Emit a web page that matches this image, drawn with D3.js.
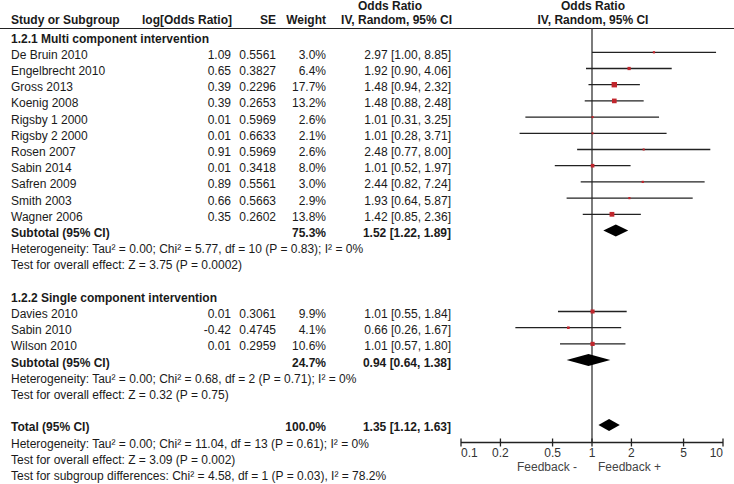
<!DOCTYPE html>
<html>
<head>
<meta charset="utf-8">
<script src="https://cdn.jsdelivr.net/npm/d3@7"></script>
<style>
  body { margin: 0; background: #fff; }
  text { font-family: "Liberation Sans", Arial, Helvetica, sans-serif; font-size: 12px; fill: #1a1a1a; }
</style>
</head>
<body>
<svg width="734" height="484"></svg>
<script>
// study rows (group 1 = multi component, group 2 = single component)
var studies = ["De Bruin 2010", "Engelbrecht 2010", "Gross 2013", "Koenig 2008", "Rigsby 1 2000", "Rigsby 2 2000",
  "Rosen 2007", "Sabin 2014", "Safren 2009", "Smith 2003", "Wagner 2006",
  "Davies 2010", "Sabin 2010", "Wilson 2010"];
var groups = [1, 1, 1, 1, 1, 1, 1, 1, 1, 1, 1, 2, 2, 2];
var logOR = [1.09, 0.65, 0.39, 0.39, 0.01, 0.01, 0.91, 0.01, 0.89, 0.66, 0.35, 0.01, -0.42, 0.01];
var se = [0.5561, 0.3827, 0.2296, 0.2653, 0.5969, 0.6633, 0.5969, 0.3418, 0.5561, 0.5663, 0.2602, 0.3061, 0.4745, 0.2959];
var weights = [3.0, 6.4, 17.7, 13.2, 2.6, 2.1, 2.6, 8.0, 3.0, 2.9, 13.8, 9.9, 4.1, 10.6];
var oddsRatio = [2.97, 1.92, 1.48, 1.48, 1.01, 1.01, 2.48, 1.01, 2.44, 1.93, 1.42, 1.01, 0.66, 1.01];
var ciLow = [1.00, 0.90, 0.94, 0.88, 0.31, 0.28, 0.77, 0.52, 0.82, 0.64, 0.85, 0.55, 0.26, 0.57];
var ciHigh = [8.85, 4.06, 2.32, 2.48, 3.25, 3.71, 8.00, 1.97, 7.24, 5.87, 2.36, 1.84, 1.67, 1.80];

// pooled estimates: subtotal 1, subtotal 2, total
var pooledLabels = ["Subtotal (95% CI)", "Subtotal (95% CI)", "Total (95% CI)"];
var pooledWeights = ["75.3%", "24.7%", "100.0%"];
var pooledOR = [1.52, 0.94, 1.35];
var pooledLow = [1.22, 0.64, 1.12];
var pooledHigh = [1.89, 1.38, 1.63];

var groupTitles = ["1.2.1 Multi component intervention", "1.2.2 Single component intervention"];
var groupNotes = [
  ["Heterogeneity: Tau\u00b2 = 0.00; Chi\u00b2 = 5.77, df = 10 (P = 0.83); I\u00b2 = 0%", "Test for overall effect: Z = 3.75 (P = 0.0002)"],
  ["Heterogeneity: Tau\u00b2 = 0.00; Chi\u00b2 = 0.68, df = 2 (P = 0.71); I\u00b2 = 0%", "Test for overall effect: Z = 0.32 (P = 0.75)"]
];
var totalNotes = ["Heterogeneity: Tau\u00b2 = 0.00; Chi\u00b2 = 11.04, df = 13 (P = 0.61); I\u00b2 = 0%",
  "Test for overall effect: Z = 3.09 (P = 0.002)",
  "Test for subgroup differences: Chi\u00b2 = 4.58, df = 1 (P = 0.03), I\u00b2 = 78.2%"];

var axisTicks = [0.1, 0.2, 0.5, 1, 2, 5, 10];
var axisLabels = ["Feedback -", "Feedback +"];

var svg = d3.select("svg");
// plain hyphen for negatives, like the source table
var f2 = function (v) { return v.toFixed(2); };
var f1 = function (v) { return v.toFixed(1); };

var xScale = d3.scaleLog().domain([0.1, 10]).range([461, 723]);
var rowScale = d3.scaleLinear().domain([0, 26]).range([52.3, 473.5]);
var boxSize = d3.scaleSqrt().domain([0, 17.7]).range([0, 5.4]);
var textDy = 6.5;

var colLeft = 11, colLog = 231, colSE = 276, colW = 326, colOR = 451;

// Headers
svg.append("text").attr("x", 390).attr("y", 10).attr("text-anchor", "middle")
  .style("font-weight", "bold").text("Odds Ratio");
svg.append("text").attr("x", 593).attr("y", 10).attr("text-anchor", "middle")
  .style("font-weight", "bold").text("Odds Ratio");
var headers = [["Study or Subgroup", colLeft, "start"], ["log[Odds Ratio]", colLog + 1, "end"], ["SE", colSE, "end"],
  ["Weight", colW, "end"], ["IV, Random, 95% CI", colOR + 1, "end"], ["IV, Random, 95% CI", 593, "middle"]];
headers.forEach(function (h) {
  svg.append("text").attr("x", h[1]).attr("y", 24).attr("text-anchor", h[2])
    .style("font-weight", "bold").text(h[0]);
});
svg.append("line").attr("x1", 0).attr("x2", 734).attr("y1", 28.5).attr("y2", 28.5)
  .attr("stroke", "#222").attr("stroke-width", 1.2);

// build row layout
var rows = [];      // study rows
var pooledRows = [];
var noteRows = [];
var r = -1;
[1, 2].forEach(function (g, gi) {
  noteRows.push({ row: r, text: groupTitles[gi], bold: true });
  r++;
  studies.forEach(function (s, i) {
    if (groups[i] === g) { rows.push({ i: i, row: r }); r++; }
  });
  pooledRows.push({ k: gi, row: r }); r++;
  groupNotes[gi].forEach(function (t) { noteRows.push({ row: r, text: t }); r++; });
  r += 1;
});
pooledRows.push({ k: 2, row: r }); r++;
totalNotes.forEach(function (t) { noteRows.push({ row: r, text: t }); r++; });

// Left labels / notes
svg.append("g").selectAll("text").data(noteRows).enter().append("text")
  .attr("x", colLeft).attr("y", function (d) { return rowScale(d.row) + textDy; })
  .style("font-weight", function (d) { return d.bold ? "bold" : "normal"; })
  .text(function (d) { return d.text; });

// Study table columns
var table = svg.append("g");
rows.forEach(function (d) {
  var y = rowScale(d.row) + textDy, i = d.i;
  table.append("text").attr("x", colLeft).attr("y", y).text(studies[i]);
  table.append("text").attr("x", colLog).attr("y", y).attr("text-anchor", "end").text(f2(logOR[i]));
  table.append("text").attr("x", colSE).attr("y", y).attr("text-anchor", "end").text(se[i].toFixed(4));
  table.append("text").attr("x", colW).attr("y", y).attr("text-anchor", "end").text(f1(weights[i]) + "%");
  table.append("text").attr("x", colOR).attr("y", y).attr("text-anchor", "end")
    .text(f2(oddsRatio[i]) + " [" + f2(ciLow[i]) + ", " + f2(ciHigh[i]) + "]");
});
pooledRows.forEach(function (d) {
  var y = rowScale(d.row) + textDy, k = d.k;
  table.append("text").attr("x", colLeft).attr("y", y).style("font-weight", "bold").text(pooledLabels[k]);
  table.append("text").attr("x", colW).attr("y", y).attr("text-anchor", "end").style("font-weight", "bold").text(pooledWeights[k]);
  table.append("text").attr("x", colOR).attr("y", y).attr("text-anchor", "end").style("font-weight", "bold")
    .text(f2(pooledOR[k]) + " [" + f2(pooledLow[k]) + ", " + f2(pooledHigh[k]) + "]");
});

// line of no effect
var axisY = 442.5;
svg.append("line").attr("x1", xScale(1)).attr("x2", xScale(1)).attr("y1", 28.5).attr("y2", axisY)
  .attr("stroke", "#444").attr("stroke-width", 1.4);

// CI lines
svg.append("g").selectAll("line").data(rows).enter().append("line")
  .attr("x1", function (d) { return xScale(ciLow[d.i]); })
  .attr("x2", function (d) { return xScale(ciHigh[d.i]); })
  .attr("y1", function (d) { return rowScale(d.row); })
  .attr("y2", function (d) { return rowScale(d.row); })
  .attr("stroke", "#222").attr("stroke-width", 1.3);

// weight boxes
svg.append("g").selectAll("rect").data(rows).enter().append("rect")
  .attr("x", function (d) { return xScale(oddsRatio[d.i]) - Math.max(2, boxSize(weights[d.i])) / 2; })
  .attr("y", function (d) { return rowScale(d.row) - Math.max(2, boxSize(weights[d.i])) / 2; })
  .attr("width", function (d) { return Math.max(2, boxSize(weights[d.i])); })
  .attr("height", function (d) { return Math.max(2, boxSize(weights[d.i])); })
  .attr("fill", "#c0262d");

// diamonds
svg.append("g").selectAll("path").data(pooledRows).enter().append("path")
  .attr("d", function (d) {
    var y = rowScale(d.row), k = d.k;
    return "M" + xScale(pooledLow[k]) + "," + y + "L" + xScale(pooledOR[k]) + "," + (y - 6) +
      "L" + xScale(pooledHigh[k]) + "," + y + "L" + xScale(pooledOR[k]) + "," + (y + 6) + "Z";
  })
  .attr("fill", "#000");

// X axis
var axis = svg.append("g").attr("transform", "translate(0," + axisY + ")");
axis.append("line").attr("x1", xScale(0.1)).attr("x2", xScale(10)).attr("stroke", "#222").attr("stroke-width", 1.3);
axis.selectAll(".tick").data(axisTicks).enter().append("line")
  .attr("x1", function (d) { return xScale(d); }).attr("x2", function (d) { return xScale(d); })
  .attr("y1", -4).attr("y2", 4).attr("stroke", "#222").attr("stroke-width", 1.3);
axis.selectAll(".lab").data(axisTicks).enter().append("text")
  .attr("x", function (d) { return xScale(d); })
  .attr("y", 14.5)
  .attr("text-anchor", function (d, i) { return i === 0 ? "start" : (i === axisTicks.length - 1 ? "end" : "middle"); })
  .style("fill", "#333")
  .text(function (d) { return d; });
axis.append("text").attr("x", xScale(1) - 15).attr("y", 28).attr("text-anchor", "end")
  .style("fill", "#444").text(axisLabels[0]);
axis.append("text").attr("x", xScale(1) + 6).attr("y", 28).attr("text-anchor", "start")
  .style("fill", "#444").text(axisLabels[1]);
</script>
</body>
</html>
